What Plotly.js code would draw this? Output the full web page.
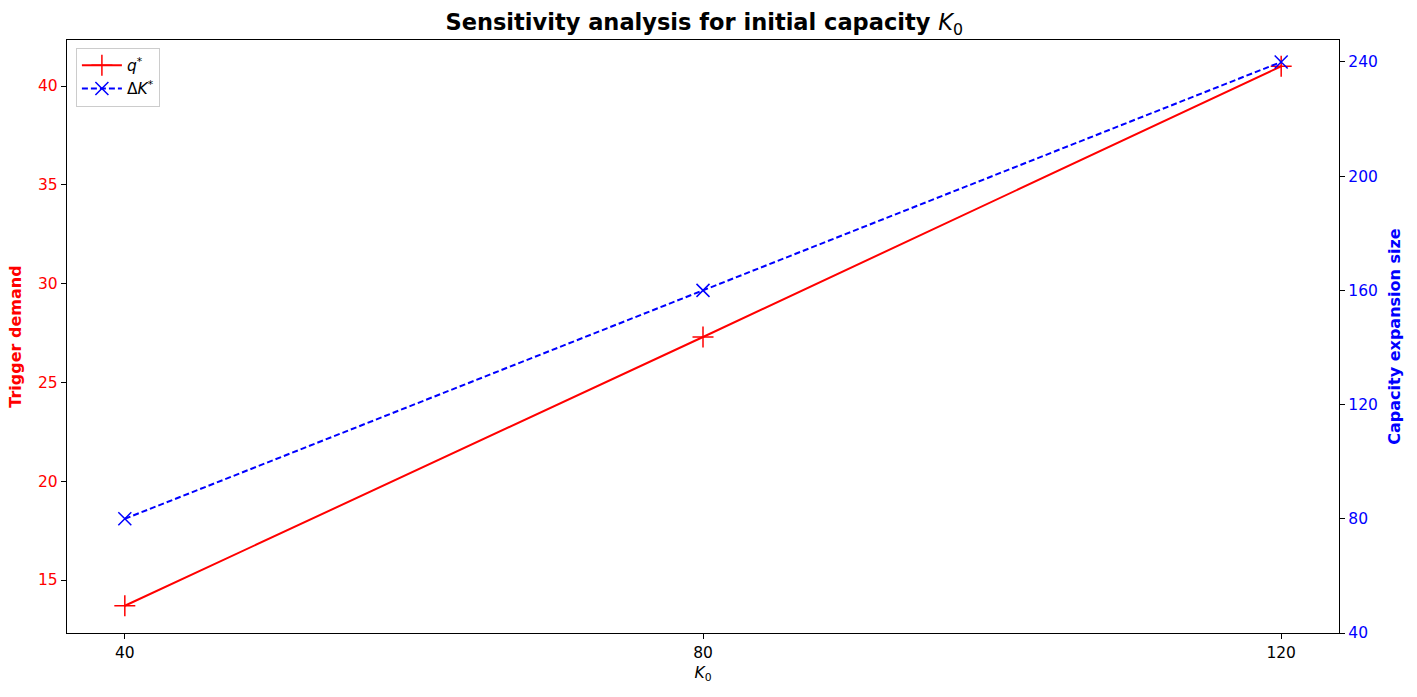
<!DOCTYPE html>
<html>
<head>
<meta charset="utf-8">
<script src="https://cdn.plot.ly/plotly-3.0.1.min.js"></script>
<style>html,body{margin:0;padding:0;background:#fff;}#chart{width:1417px;height:697px;}</style>
</head>
<body>
<div id="chart"></div>
<script>
const K0 = [40, 80, 120];
const qStar = [13.7, 27.3, 41.0];
const deltaK = [80, 160, 240];
const xTicks = [40, 80, 120];
const leftTicks = [15, 20, 25, 30, 35, 40];
const rightTicks = [40, 80, 120, 160, 200, 240];

const font = 'DejaVu Sans, sans-serif';

const traces = [
  {
    x: K0, y: qStar, type: 'scatter', mode: 'lines+markers', name: '<i>q</i><sup>*</sup>',
    line: {color: 'red', width: 2},
    marker: {symbol: 'cross-thin-open', size: 15, color: 'red', line: {color: 'red', width: 1.5}},
    yaxis: 'y'
  },
  {
    x: K0, y: deltaK, type: 'scatter', mode: 'lines+markers', name: 'Δ<i>K</i><sup>*</sup>',
    line: {color: 'blue', width: 2, dash: '6px,3px'},
    marker: {symbol: 'x-thin-open', size: 13, color: 'blue', line: {color: 'blue', width: 1.5}},
    yaxis: 'y2'
  }
];

const layout = {
  width: 1417, height: 697,
  margin: {l: 67, r: 78, t: 40, b: 64},
  paper_bgcolor: '#fff', plot_bgcolor: '#fff',
  font: {family: font, size: 15.5, color: 'black'},
  showlegend: true,
  title: {text: '<b>Sensitivity analysis for initial capacity </b><i>K</i><sub>0</sub>', x: 0.497, xanchor: 'center', y: 0.968, yanchor: 'middle', font: {family: font, size: 22.5, color: 'black'}},
  xaxis: {
    range: [36, 124], tickmode: 'array', tickvals: xTicks, ticktext: xTicks.map(String),
    ticks: 'outside', ticklen: 5, tickwidth: 1, tickcolor: 'black',
    showgrid: false, zeroline: false, showline: true, linecolor: 'black', linewidth: 1.2, mirror: true,
    title: {text: '<i>K</i><sub>0</sub>', font: {family: font, size: 15.5}, standoff: 6},
    tickfont: {family: font, size: 15.5, color: 'black'}
  },
  yaxis: {
    range: [12.32, 42.33], tickmode: 'array', tickvals: leftTicks, ticktext: leftTicks.map(String),
    ticks: 'outside', ticklen: 5, tickwidth: 1, tickcolor: 'black',
    showgrid: false, zeroline: false, showline: true, linecolor: 'black', linewidth: 1.2,
    title: {text: '<b>Trigger demand</b>', font: {family: font, size: 16, color: 'red'}, standoff: 12},
    tickfont: {family: font, size: 15.5, color: 'red'}
  },
  yaxis2: {
    overlaying: 'y', side: 'right',
    range: [40, 247.7], tickmode: 'array', tickvals: rightTicks, ticktext: rightTicks.map(String),
    ticks: 'outside', ticklen: 5, tickwidth: 1, tickcolor: 'black',
    showgrid: false, zeroline: false, showline: true, linecolor: 'black', linewidth: 1.2,
    title: {text: '<b>Capacity expansion size</b>', font: {family: font, size: 16, color: 'blue'}, standoff: 12},
    tickfont: {family: font, size: 15.5, color: 'blue'}
  },
  legend: {
    x: 0.007, y: 0.987, xanchor: 'left', yanchor: 'top',
    bgcolor: 'rgba(255,255,255,0.8)', bordercolor: '#cccccc', borderwidth: 1,
    font: {family: font, size: 15.5, color: 'black'}, itemwidth: 40, tracegroupgap: 2
  }
};

Plotly.newPlot('chart', traces, layout, {displayModeBar: false, staticPlot: true});
</script>
</body>
</html>
